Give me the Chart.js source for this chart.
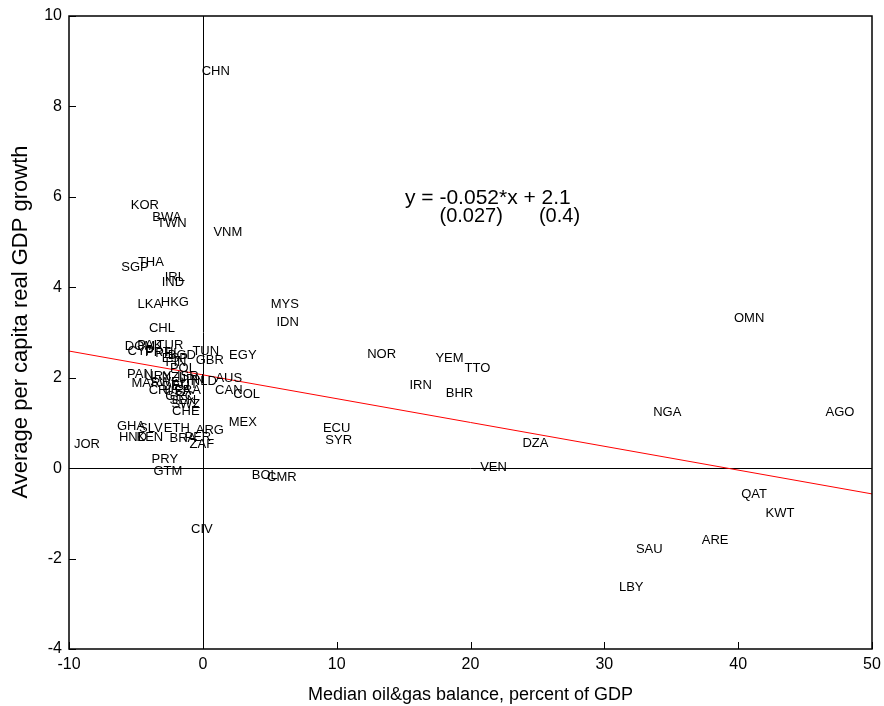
<!DOCTYPE html>
<html><head><meta charset="utf-8">
<script src="https://cdn.jsdelivr.net/npm/chart.js@4.4.1/dist/chart.umd.min.js"></script>
<style>html,body{margin:0;padding:0;background:#fff;}canvas{display:block;}</style>
</head><body>
<canvas id="c" width="884" height="706"></canvas>
<script>
const codes = ["CHN","KOR","BWA","TWN","VNM","THA","SGP","IRL","IND","LKA","HKG","CHL","MYS","IDN","OMN","NOR","YEM","TTO","IRN","BHR","NGA","AGO","DZA","VEN","QAT","KWT","ARE","SAU","LBY","ECU","SYR","BOL","CMR","CIV","JOR","PRY","GTM","MEX","EGY","AUS","CAN","COL","CHE","ZAF","GHA","SLV","ETH","ARG","HND","KEN","BRA","PER","DOM","PAK","TUR","CYP","PRT","BGD","PHL","TUN","ESP","FIN","GBR","POL","PAN","URY","NZL","ISR","JPN","NLD","MAR","SWE","AUT","DEU","CRI","USA","FRA","GRC","SEN","SWZ"];
const oilBalance = [0.97,-4.33,-2.69,-2.31,1.87,-3.88,-5.07,-2.09,-2.24,-3.96,-2.09,-3.06,6.12,6.34,40.82,13.36,18.43,20.52,16.27,19.18,34.70,47.61,24.85,21.72,41.19,43.13,38.28,33.36,32.01,10.00,10.15,4.63,5.90,-0.07,-8.66,-2.84,-2.61,2.99,2.99,1.94,1.94,3.28,-1.27,-0.07,-5.37,-3.88,-1.94,0.52,-5.22,-3.96,-1.49,-0.37,-4.70,-3.96,-2.46,-4.63,-3.36,-1.57,-2.61,0.22,-2.09,-2.01,0.52,-1.49,-4.70,-3.36,-2.16,-1.12,-0.82,0.07,-4.25,-2.84,-1.34,-2.01,-3.21,-1.87,-1.12,-1.72,-1.49,-1.27];
const gdpGrowth = [8.78,5.82,5.55,5.42,5.22,4.56,4.45,4.22,4.11,3.61,3.67,3.10,3.63,3.23,3.32,2.52,2.43,2.21,1.84,1.66,1.24,1.24,0.55,0.02,-0.58,-1.00,-1.59,-1.79,-2.63,0.88,0.62,-0.15,-0.20,-1.35,0.53,0.20,-0.07,1.02,2.50,1.99,1.73,1.64,1.26,0.53,0.93,0.88,0.88,0.84,0.69,0.69,0.66,0.69,2.70,2.72,2.72,2.59,2.57,2.50,2.54,2.59,2.43,2.34,2.39,2.21,2.08,2.03,2.01,2.03,1.97,1.92,1.88,1.90,1.86,1.81,1.73,1.70,1.73,1.59,1.50,1.42];
const fitX = [-10, 50];
const fitY = [2.59, -0.57];
const xTicks = [-10,0,10,20,30,40,50];
const yTicks = [-4,-2,0,2,4,6,8,10];
const eqLine1 = "y = -0.052*x + 2.1";
const eqLine2a = "(0.027)";
const eqLine2b = "(0.4)";
const xTitle = "Median oil&gas balance, percent of GDP";
const yTitle = "Average per capita real GDP growth";

const FONT = "'Liberation Sans', Arial, Helvetica, sans-serif";

const pts = codes.map((c,i)=>({x:oilBalance[i], y:gdpGrowth[i]}));
const fitPts = fitX.map((x,i)=>({x, y:fitY[i]}));

const framePlugin = {
  id:'frame',
  beforeDatasetsDraw(chart){
    const {ctx, chartArea:a, scales:{x,y}} = chart;
    ctx.save();
    ctx.strokeStyle='#000'; ctx.lineWidth=1;
    const x0 = Math.round(x.getPixelForValue(0))+0.5;
    const y0 = Math.round(y.getPixelForValue(0))+0.5;
    ctx.beginPath();
    ctx.moveTo(x0,a.top); ctx.lineTo(x0,a.bottom);
    ctx.moveTo(a.left,y0); ctx.lineTo(a.right,y0);
    ctx.stroke();
    ctx.restore();
  },
  afterDatasetsDraw(chart){
    const {ctx, chartArea:a, scales:{x,y}} = chart;
    ctx.save();
    const meta = chart.getDatasetMeta(0);
    ctx.fillStyle='#000';
    ctx.font = "13px "+FONT;
    ctx.textAlign='center'; ctx.textBaseline='middle';
    meta.data.forEach((el,i)=>{ ctx.fillText(codes[i], el.x, el.y); });
    ctx.font = "21px "+FONT;
    ctx.fillText(eqLine1, x.getPixelForValue(21.3), y.getPixelForValue(5.97));
    ctx.font = "20px "+FONT;
    ctx.fillText(eqLine2a, x.getPixelForValue(20.05), y.getPixelForValue(5.57));
    ctx.fillText(eqLine2b, x.getPixelForValue(26.65), y.getPixelForValue(5.57));
    // y title
    ctx.save();
    ctx.font = "22px "+FONT;
    ctx.translate(21, 322);
    ctx.rotate(-Math.PI/2);
    ctx.fillText(yTitle, 0, 0);
    ctx.restore();
    ctx.strokeStyle='#000'; ctx.lineWidth=1.5;
    ctx.strokeRect(a.left, a.top, a.right-a.left, a.bottom-a.top);
    ctx.lineWidth=1;
    ctx.beginPath();
    xTicks.forEach(v=>{ const px=Math.round(x.getPixelForValue(v))+0.5; ctx.moveTo(px,a.bottom); ctx.lineTo(px,a.bottom-7); });
    yTicks.forEach(v=>{ const py=Math.round(y.getPixelForValue(v))+0.5; ctx.moveTo(a.left,py); ctx.lineTo(a.left+7,py); });
    ctx.stroke();
    ctx.restore();
  }
};

new Chart(document.getElementById('c'), {
  type:'scatter',
  data:{datasets:[
    {data:pts, pointRadius:0, pointHoverRadius:0, showLine:false},
    {type:'line', data:fitPts, borderColor:'#ff0000', borderWidth:1, pointRadius:0, fill:false, tension:0}
  ]},
  options:{
    responsive:false, animation:false,
    layout:{padding:{left:0, top:16, right:12, bottom:0}},
    plugins:{legend:{display:false}, tooltip:{enabled:false}},
    scales:{
      x:{type:'linear', min:-10, max:50,
        afterBuildTicks(s){ s.ticks = xTicks.map(v=>({value:v})); },
        afterFit(s){ s.height = 57; s.paddingLeft = 0; s.paddingRight = 0; },
        grid:{display:false, drawTicks:false}, border:{display:false},
        ticks:{color:'#000', font:{family:FONT, size:16}, padding:6, maxRotation:0, autoSkip:false},
        title:{display:true, text:xTitle, color:'#000', font:{family:FONT, size:18}, padding:{top:3, bottom:0}}
      },
      y:{type:'linear', min:-4, max:10,
        afterBuildTicks(s){ s.ticks = yTicks.map(v=>({value:v})); },
        afterFit(s){ s.width = 69; s.paddingTop = 0; s.paddingBottom = 0; },
        grid:{display:false, drawTicks:false}, border:{display:false},
        ticks:{color:'#000', font:{family:FONT, size:16}, padding:7, autoSkip:false},
        title:{display:false}
      }
    }
  },
  plugins:[framePlugin]
});
</script>
</body></html>
